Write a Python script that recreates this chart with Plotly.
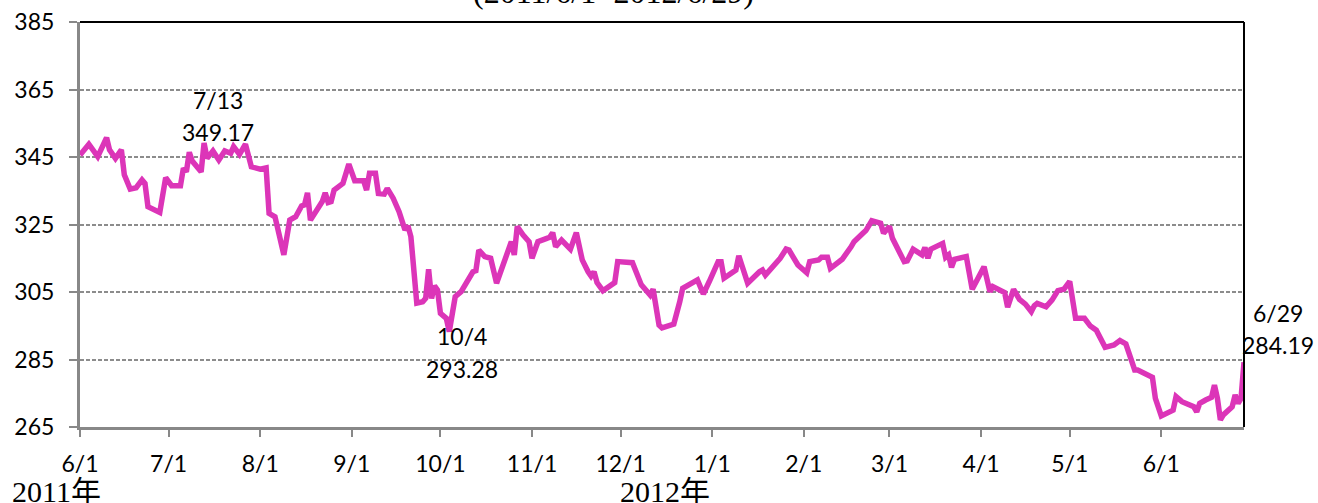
import plotly.graph_objects as go

# ---- data ----
dates = [
    "2011-06-01", "2011-06-04", "2011-06-07", "2011-06-10", "2011-06-11", "2011-06-13", "2011-06-15",
    "2011-06-16", "2011-06-18", "2011-06-20", "2011-06-22", "2011-06-23", "2011-06-24", "2011-06-28",
    "2011-06-30", "2011-07-02", "2011-07-05", "2011-07-06", "2011-07-07", "2011-07-08", "2011-07-09",
    "2011-07-12", "2011-07-13", "2011-07-14", "2011-07-16", "2011-07-18", "2011-07-20", "2011-07-22",
    "2011-07-23", "2011-07-25", "2011-07-27", "2011-07-29", "2011-08-01", "2011-08-03", "2011-08-04",
    "2011-08-06", "2011-08-09", "2011-08-11", "2011-08-13", "2011-08-15", "2011-08-16", "2011-08-17",
    "2011-08-18", "2011-08-20", "2011-08-22", "2011-08-23", "2011-08-24", "2011-08-25", "2011-08-26",
    "2011-08-29", "2011-08-31", "2011-09-02", "2011-09-05", "2011-09-06", "2011-09-07", "2011-09-09",
    "2011-09-10", "2011-09-12", "2011-09-13", "2011-09-15", "2011-09-17", "2011-09-19", "2011-09-20",
    "2011-09-21", "2011-09-23", "2011-09-25", "2011-09-26", "2011-09-27", "2011-09-28", "2011-09-29",
    "2011-09-30", "2011-10-01", "2011-10-03", "2011-10-04", "2011-10-06", "2011-10-08", "2011-10-10",
    "2011-10-12", "2011-10-13", "2011-10-14", "2011-10-16", "2011-10-18", "2011-10-20", "2011-10-23",
    "2011-10-25", "2011-10-26", "2011-10-27", "2011-10-29", "2011-10-31", "2011-11-01", "2011-11-03",
    "2011-11-06", "2011-11-07", "2011-11-08", "2011-11-09", "2011-11-11", "2011-11-14", "2011-11-16",
    "2011-11-18", "2011-11-20", "2011-11-21", "2011-11-22", "2011-11-23", "2011-11-25", "2011-11-29",
    "2011-11-30", "2011-12-05", "2011-12-08", "2011-12-11", "2011-12-12", "2011-12-14", "2011-12-15",
    "2011-12-19", "2011-12-21", "2011-12-22", "2011-12-27", "2011-12-29", "2011-12-31", "2012-01-03",
    "2012-01-04", "2012-01-05", "2012-01-09", "2012-01-10", "2012-01-11", "2012-01-13", "2012-01-17",
    "2012-01-18", "2012-01-19", "2012-01-24", "2012-01-26", "2012-01-27", "2012-01-30", "2012-02-02",
    "2012-02-03", "2012-02-06", "2012-02-07", "2012-02-09", "2012-02-10", "2012-02-13", "2012-02-14",
    "2012-02-17", "2012-02-18", "2012-02-21", "2012-02-22", "2012-02-24", "2012-02-27", "2012-02-28",
    "2012-03-01", "2012-03-02", "2012-03-06", "2012-03-07", "2012-03-09", "2012-03-12", "2012-03-13",
    "2012-03-14", "2012-03-15", "2012-03-19", "2012-03-20", "2012-03-21", "2012-03-22", "2012-03-23",
    "2012-03-27", "2012-03-29", "2012-03-31", "2012-04-02", "2012-04-04", "2012-04-05", "2012-04-09",
    "2012-04-10", "2012-04-12", "2012-04-14", "2012-04-16", "2012-04-18", "2012-04-19", "2012-04-20",
    "2012-04-23", "2012-04-25", "2012-04-27", "2012-04-29", "2012-05-01", "2012-05-03", "2012-05-06",
    "2012-05-08", "2012-05-10", "2012-05-11", "2012-05-13", "2012-05-16", "2012-05-18", "2012-05-20",
    "2012-05-23", "2012-05-24", "2012-05-29", "2012-05-30", "2012-06-01", "2012-06-05", "2012-06-06",
    "2012-06-08", "2012-06-12", "2012-06-13", "2012-06-14", "2012-06-16", "2012-06-18", "2012-06-19",
    "2012-06-20", "2012-06-21", "2012-06-22", "2012-06-25", "2012-06-26", "2012-06-27", "2012-06-28",
    "2012-06-29",
]
values = [
    345.6, 348.8, 345.1, 350.7, 347.1, 344.6, 347.1,
    339.7, 335.5, 335.9, 338.2, 337.2, 330.3, 328.6,
    338.9, 336.5, 336.5, 341.7, 340.6, 346.4, 343.8,
    340.6, 349.17, 344.6, 346.8, 344.1, 346.8, 346.1,
    348.1, 345.8, 348.8, 342.1, 341.4, 341.8, 328.3,
    327.3, 316.0, 326.3, 327.3, 330.5, 330.8, 334.4,
    326.3, 329.3, 331.8, 334.4, 331.5, 331.8, 335.2,
    337.2, 342.9, 338.0, 338.0, 335.2, 340.2, 340.2,
    334.2, 334.0, 335.7, 332.8, 328.8, 323.4, 324.6,
    321.4, 301.7, 302.1, 303.1, 311.7, 303.1, 306.8,
    305.6, 298.7, 297.2, 293.28, 303.6, 305.1, 308.1,
    311.0, 311.3, 317.4, 315.5, 315.0, 307.6, 314.5,
    319.9, 316.0, 324.4, 321.9, 319.9, 315.0, 319.9,
    320.9, 321.2, 322.6, 318.4, 320.4, 317.7, 322.6,
    314.5, 311.0, 309.7, 311.0, 307.8, 305.4, 307.8,
    314.0, 313.7, 307.1, 304.1, 305.8, 295.2, 294.4,
    295.5, 302.1, 306.1, 308.6, 304.4, 308.1, 314.0,
    314.0, 309.1, 311.5, 315.7, 313.0, 307.6, 311.0,
    311.5, 310.0, 315.0, 317.7, 317.4, 313.0, 310.7,
    314.0, 314.5, 315.3, 315.3, 312.0, 313.7, 314.7,
    318.4, 319.9, 322.4, 323.2, 326.1, 325.4, 322.4,
    324.4, 320.9, 314.0, 314.2, 317.7, 316.0, 318.2,
    315.0, 317.7, 319.4, 315.3, 316.0, 312.3, 314.7,
    315.5, 305.8, 309.1, 312.5, 305.1, 306.6, 304.8,
    300.5, 305.8, 302.8, 301.4, 299.2, 300.9, 301.6,
    300.6, 302.6, 305.4, 305.8, 308.1, 297.2, 297.2,
    294.9, 293.7, 291.8, 288.6, 289.3, 290.6, 289.6,
    281.9, 281.9, 279.7, 273.5, 268.3, 270.0, 274.0,
    272.5, 271.0, 269.5, 272.0, 273.0, 273.8, 277.4,
    273.5, 267.1, 268.6, 271.0, 274.5, 272.0, 273.5,
    284.19,
]

tick_dates = ["2011-06-01", "2011-07-01", "2011-08-01", "2011-09-01", "2011-10-01",
              "2011-11-01", "2011-12-01", "2012-01-01", "2012-02-01", "2012-03-01",
              "2012-04-01", "2012-05-01", "2012-06-01"]
tick_labels = ["6/1", "7/1", "8/1", "9/1", "10/1", "11/1", "12/1",
               "1/1", "2/1", "3/1", "4/1", "5/1", "6/1"]
y_ticks = [265, 285, 305, 325, 345, 365, 385]

# highlighted points: (date, value, date label)
marks_dates = ["2011-07-13", "2011-10-04", "2012-06-29"]
marks_values = [349.17, 293.28, 284.19]
marks_labels = ["7/13", "10/4", "6/29"]

title_text = "(2011/6/1~2012/6/29)"
year_labels = ["2011年", "2012年"]

LINE = "#DC35B8"
GRID = "#8C8C8C"
AXIS = "#888888"
SANS = "Lato, Calibri, sans-serif"
SERIF = "Liberation Serif, Times New Roman, Noto Sans CJK TC, serif"

fig = go.Figure()
fig.add_trace(go.Scatter(
    x=dates, y=values, mode="lines",
    line=dict(color=LINE, width=5.5, shape="linear"),
    hoverinfo="x+y", showlegend=False,
))

# data labels (offset placement as in the reference)
offsets = [  # (xshift, yshift date-label, yshift value-label)
    (14, 43, 11),
    (13, -4, -37),
    (34, 49, 17),
]
for d, v, lab, (xs, ys1, ys2) in zip(marks_dates, marks_values, marks_labels, offsets):
    fig.add_annotation(x=d, y=v, text=lab, showarrow=False, xshift=xs, yshift=ys1,
                       font=dict(family=SANS, size=23, color="black"),
                       xanchor="center", yanchor="middle")
    fig.add_annotation(x=d, y=v, text=f"{v:.2f}", showarrow=False, xshift=xs, yshift=ys2,
                       font=dict(family=SANS, size=23, color="black"),
                       xanchor="center", yanchor="middle")

# title (cut off at top of the picture)
fig.add_annotation(x=0.458, y=1, xref="paper", yref="paper", text=title_text,
                   showarrow=False, xanchor="center", yanchor="bottom", yshift=10,
                   font=dict(family=SERIF, size=32, color="black"))

# year labels under the axis
for xp, txt in zip([-0.0601, 0.4622], year_labels):
    fig.add_annotation(x=xp, y=-0.16, xref="paper", yref="paper", text=txt,
                       showarrow=False, xanchor="left", yanchor="middle",
                       font=dict(family=SERIF, size=30, color="black"))

# black top and right borders
fig.add_shape(type="line", xref="paper", yref="paper", x0=0, x1=1, y0=1, y1=1,
              line=dict(color="black", width=2))
fig.add_shape(type="line", xref="paper", yref="paper", x0=1, x1=1, y0=0, y1=1,
              line=dict(color="black", width=2))

fig.update_layout(
    width=1318, height=503,
    margin=dict(l=80, r=74, t=22, b=76, autoexpand=False),
    paper_bgcolor="white", plot_bgcolor="white",
    font=dict(family=SANS, size=23, color="black"),
    xaxis=dict(
        type="date", range=["2011-06-01", "2012-06-29"], automargin=False,
        tickmode="array", tickvals=tick_dates, ticktext=tick_labels,
        showgrid=False, zeroline=False,
        showline=True, linecolor=AXIS, linewidth=3,
        ticks="outside", ticklen=7, tickwidth=2, tickcolor=AXIS,
        ticklabelstandoff=7,
        tickfont=dict(family=SANS, size=23, color="black"),
    ),
    yaxis=dict(
        range=[265, 385], tickmode="array", tickvals=y_ticks, automargin=False,
        showgrid=True, gridcolor=GRID, gridwidth=1.5, griddash="4px,2px",
        zeroline=False,
        showline=True, linecolor=AXIS, linewidth=3,
        ticks="outside", ticklen=8, tickwidth=2, tickcolor=AXIS,
        ticklabelstandoff=10,
        tickfont=dict(family=SANS, size=23, color="black"),
    ),
)

fig.write_html(
    "out.html",
    config={"displayModeBar": False},
    post_script="document.body.style.margin='0';document.body.style.padding='0';"
                "document.body.style.overflow='hidden';",
)
